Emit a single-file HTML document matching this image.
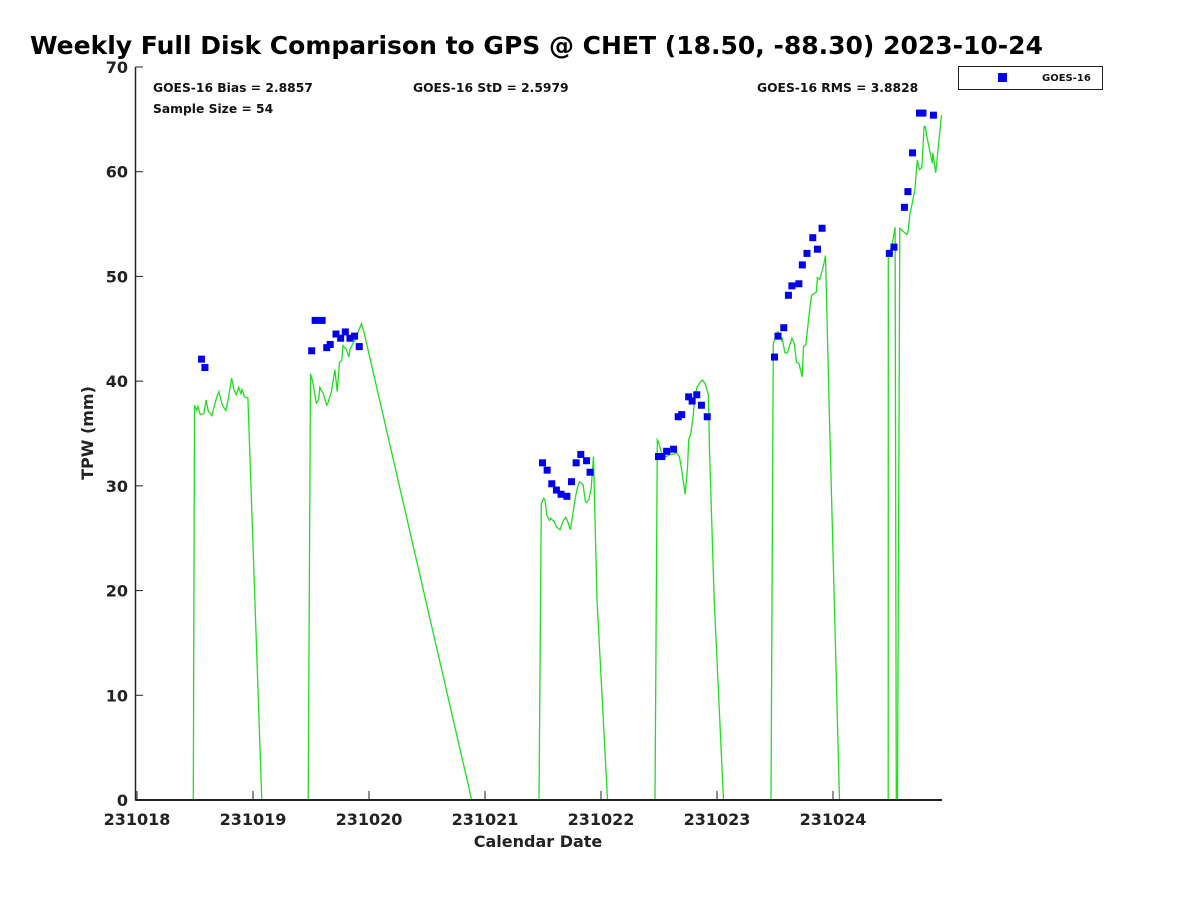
<!DOCTYPE html>
<html><head><meta charset="utf-8"><style>
body{margin:0;background:#fff;width:1200px;height:900px;overflow:hidden}
svg text{font-family:"DejaVu Sans","Liberation Sans",sans-serif;font-weight:bold}
</style></head><body>
<svg id="chart" width="1200" height="900" xmlns="http://www.w3.org/2000/svg">
<text x="30" y="54" font-size="25" fill="#000">Weekly Full Disk Comparison to GPS @ CHET (18.50, -88.30) 2023-10-24</text>
<text x="153" y="92" font-size="12.3" fill="#111">GOES-16 Bias = 2.8857</text>
<text x="153" y="113" font-size="12.3" fill="#111">Sample Size = 54</text>
<text x="413" y="92" font-size="12.3" fill="#111">GOES-16 StD = 2.5979</text>
<text x="757" y="92" font-size="12.3" fill="#111">GOES-16 RMS = 3.8828</text>
<g>
<rect x="958.5" y="66.5" width="144" height="23" fill="#fff" stroke="#222"/>
<rect x="998" y="73" width="9" height="9" fill="#0000ee"/>
<text x="1042" y="81" font-size="10" fill="#111">GOES-16</text>
</g>
<text x="0" y="0" font-size="16" fill="#222" transform="translate(93,433) rotate(-90)" text-anchor="middle">TPW (mm)</text>
<text x="538" y="847" font-size="16" fill="#222" text-anchor="middle">Calendar Date</text>
<g id="marks"></g>
<g id="axes"></g>
</svg>
<script>
const xTickLabels=["231018","231019","231020","231021","231022","231023","231024"];
const yTickValues=[0,10,20,30,40,50,60,70];
// GPS line (day offset from 231018, TPW mm)
const gpsDays=[0.49,0.50,0.52,0.53,0.55,0.58,0.60,0.62,0.65,0.66,0.69,0.71,0.74,0.77,0.79,0.82,0.84,0.86,0.88,0.90,0.91,0.93,0.95,0.96,1.08,
1.48,1.50,1.52,1.55,1.57,1.58,1.61,1.64,1.65,1.68,1.71,1.73,1.75,1.77,1.78,1.81,1.83,1.84,1.87,1.89,1.90,1.94,1.96,2.89,
3.47,3.49,3.51,3.52,3.54,3.56,3.57,3.60,3.62,3.63,3.65,3.68,3.70,3.72,3.74,3.76,3.78,3.80,3.82,3.85,3.87,3.88,3.90,3.92,3.94,3.97,4.06,
4.47,4.49,4.50,4.52,4.54,4.57,4.60,4.63,4.65,4.68,4.70,4.73,4.75,4.76,4.78,4.80,4.81,4.83,4.86,4.88,4.90,4.93,4.94,4.98,5.06,
5.47,5.49,5.52,5.53,5.56,5.565,5.59,5.61,5.65,5.67,5.69,5.71,5.74,5.75,5.77,5.81,5.82,5.86,5.87,5.89,5.92,5.94,5.97,6.06,
6.48,6.481,6.51,6.54,6.55,6.56,6.58,6.60,6.64,6.65,6.67,6.68,6.71,6.73,6.75,6.77,6.79,6.80,6.82,6.86,6.865,6.89,6.94];
const gpsValues=[0,37.7,37.2,37.6,36.8,36.9,38.2,37.1,36.7,37.2,38.4,39.0,37.7,37.2,38.2,40.3,39.2,38.7,39.4,38.8,39.2,38.5,38.4,38.4,0,
0,40.7,39.9,37.9,38.2,39.4,38.8,37.7,37.9,39.0,41.1,39.0,41.8,42.0,43.4,43.0,42.3,43.0,43.7,44.0,44.4,45.5,44.7,0,
0,28.3,28.8,28.7,27.1,26.7,26.9,26.6,26.1,26.0,25.8,26.7,27.0,26.5,25.8,27.2,28.7,29.8,30.4,30.1,28.5,28.4,28.7,29.8,32.8,19.1,0,
0,34.4,34.2,33.4,32.8,32.8,33.0,33.0,33.2,32.8,31.5,29.2,31.7,34.4,35.1,36.8,38.2,39.4,39.9,40.1,39.8,38.7,33.4,19.1,0,
0,43.6,44.6,44.7,43.9,44.2,42.7,42.7,44.1,43.6,41.8,41.7,40.4,43.3,43.5,47.5,48.2,48.5,49.9,49.7,50.9,52.0,38.2,0,
0,52.2,52.8,54.7,0,0,54.6,54.4,54.0,54.2,56.1,56.6,58.3,61.1,60.2,60.4,64.3,64.3,63.0,60.8,61.8,59.9,65.4];
// GOES-16 retrievals
const goesDays=[0.56,0.59,
1.51,1.54,1.60,1.64,1.67,1.72,1.76,1.80,1.84,1.88,1.92,
3.50,3.54,3.58,3.62,3.66,3.71,3.75,3.79,3.83,3.88,3.91,
4.50,4.53,4.57,4.63,4.67,4.70,4.76,4.79,4.83,4.87,4.92,
5.50,5.53,5.58,5.62,5.65,5.71,5.74,5.78,5.83,5.87,5.91,
6.49,6.53,6.62,6.65,6.69,6.75,6.78,6.87];
const goesValues=[42.1,41.3,
42.9,45.8,45.8,43.2,43.5,44.5,44.1,44.7,44.1,44.3,43.3,
32.2,31.5,30.2,29.6,29.2,29.0,30.4,32.2,33.0,32.4,31.3,
32.8,32.8,33.3,33.5,36.6,36.8,38.5,38.1,38.7,37.7,36.6,
42.3,44.3,45.1,48.2,49.1,49.3,51.1,52.2,53.7,52.6,54.6,
52.2,52.8,56.6,58.1,61.8,65.6,65.6,65.4];

const NS="http://www.w3.org/2000/svg";
const X0=136.5,DX=116,YB=800,YT=67;
function xs(d){return X0+d*DX;}
function ys(v){return YB-(v/70)*(YB-YT);}
function mk(t,a){const e=document.createElementNS(NS,t);for(const k in a)e.setAttribute(k,a[k]);return e;}
const axes=document.getElementById('axes'),marks=document.getElementById('marks');

const yAxis=mk('line',{x1:135.5,y1:YT,x2:135.5,y2:YB+0.5,stroke:'#222','stroke-width':1.5});


axes.appendChild(yAxis);
const xAxis=mk('line',{x1:135.5,y1:YB,x2:942,y2:YB,stroke:'#222','stroke-width':2});


axes.appendChild(xAxis);

yTickValues.forEach(v=>{
  const y=ys(v);
  const t=mk('line',{x1:135.5,y1:y,x2:143,y2:y,stroke:'#222','stroke-width':1});
  
  
  axes.appendChild(t);
  const l=mk('text',{x:128,y:y+6,'font-size':16,fill:'#222','text-anchor':'end'});
  l.textContent=String(v);
  
  
  axes.appendChild(l);
});
xTickLabels.forEach((s,i)=>{
  const x=xs(i)+0.5;
  const t=mk('line',{x1:x,y1:YB,x2:x,y2:YB-9,stroke:'#222','stroke-width':1});
  
  
  axes.appendChild(t);
  const l=mk('text',{x:x,y:YB+25,'font-size':16,fill:'#222','text-anchor':'middle'});
  l.textContent=s;
  
  
  axes.appendChild(l);
});

const pts=gpsDays.map((d,i)=>xs(d).toFixed(1)+','+ys(gpsValues[i]).toFixed(1)).join(' ');
const line=mk('polyline',{points:pts,fill:'none',stroke:'#22dd22','stroke-width':1.3});


marks.appendChild(line);
goesDays.forEach((d,i)=>{
  const r=mk('rect',{x:xs(d)-3.5,y:ys(goesValues[i])-3.5,width:7,height:7,fill:'#0000ee'});
  
  
  marks.appendChild(r);
});
</script>
</body></html>
